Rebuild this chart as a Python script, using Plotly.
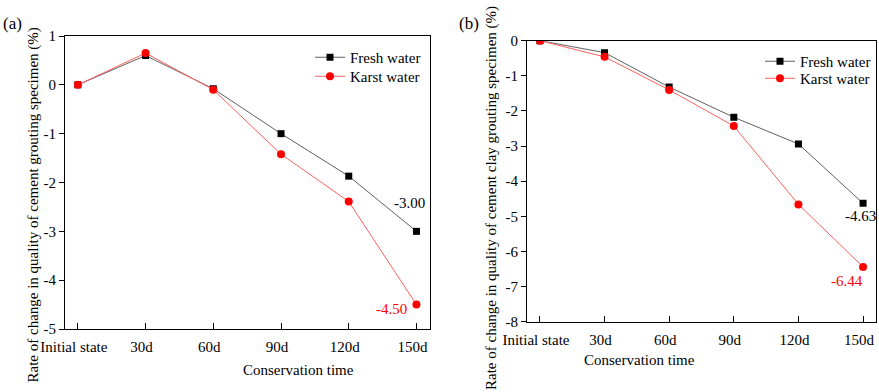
import plotly.graph_objects as go

W, H = 879, 392

categories = ["Initial state", "30d", "60d", "90d", "120d", "150d"]
fresh_a = [0, 0.60, -0.08, -1.00, -1.87, -3.00]
karst_a = [0, 0.65, -0.10, -1.42, -2.39, -4.50]
fresh_b = [0, -0.34, -1.32, -2.18, -2.94, -4.63]
karst_b = [0, -0.46, -1.40, -2.43, -4.66, -6.44]
yticks_a = [1, 0, -1, -2, -3, -4, -5]
yticks_b = [0, -1, -2, -3, -4, -5, -6, -7, -8]

FONT = "Liberation Serif, Times New Roman, serif"
xs = list(range(len(categories)))

def px(x):
    return x / W

def py(y):
    return 1 - y / H

fig = go.Figure()

black_line = dict(color="#606060", width=1)
red_line = dict(color="#ff6060", width=1)

fig.add_trace(go.Scatter(x=xs, y=fresh_a, mode="lines+markers", name="Fresh water",
                         line=black_line, marker=dict(symbol="square", size=7, color="black"),
                         xaxis="x", yaxis="y", legend="legend"))
fig.add_trace(go.Scatter(x=xs, y=karst_a, mode="lines+markers", name="Karst water",
                         line=red_line, marker=dict(symbol="circle", size=8, color="#ff0000"),
                         xaxis="x", yaxis="y", legend="legend2"))
fig.add_trace(go.Scatter(x=xs, y=fresh_b, mode="lines+markers", name="Fresh water",
                         line=black_line, marker=dict(symbol="square", size=7, color="black"),
                         xaxis="x2", yaxis="y2", legend="legend3"))
fig.add_trace(go.Scatter(x=xs, y=karst_b, mode="lines+markers", name="Karst water",
                         line=red_line, marker=dict(symbol="circle", size=8, color="#ff0000"),
                         xaxis="x2", yaxis="y2", legend="legend4"))

xcommon = dict(tickmode="array", tickvals=xs, ticktext=categories, ticks="inside", ticklen=6,
               tickcolor="black", showline=True, linecolor="black", linewidth=1, mirror=True,
               showgrid=False, zeroline=False, ticklabelshift=-4, ticklabelstandoff=4,
               automargin=False, tickfont=dict(family=FONT, size=15, color="black"))
ycommon = dict(ticks="outside", ticklen=5, tickcolor="black", showline=True, linecolor="black",
               linewidth=1, mirror=True, showgrid=False, zeroline=False, automargin=False,
               tickmode="array", tickfont=dict(family=FONT, size=15, color="black"))

def leg(x, y):
    return dict(x=px(x), y=py(y), xanchor="left", yanchor="top", bgcolor="rgba(0,0,0,0)",
                font=dict(family=FONT, size=15, color="black"))

fig.update_layout(
    width=W, height=H, margin=dict(l=0, r=0, t=0, b=0, autoexpand=False),
    paper_bgcolor="white", plot_bgcolor="white",
    font=dict(family=FONT, size=15, color="black"),
    xaxis=dict(domain=[px(65), px(430)], range=[-0.19, 5.2], anchor="y", **xcommon),
    yaxis=dict(domain=[py(329), py(36)], range=[-5, 1], tickvals=yticks_a,
               ticktext=[str(v) for v in yticks_a], anchor="x", **ycommon),
    xaxis2=dict(domain=[px(527), px(876)], range=[-0.2, 5.2], anchor="y2", **xcommon),
    yaxis2=dict(domain=[py(321.7), py(40.7)], range=[-8, 0], tickvals=yticks_b,
                ticktext=[str(v) for v in yticks_b], anchor="x2", **ycommon),
    legend=leg(310, 41),
    legend2=leg(310, 60),
    legend3=leg(760, 45),
    legend4=leg(760, 62),
    showlegend=True,
)

ann = []
# value labels
ann.append(dict(x=5, y=fresh_a[5], xref="x", yref="y", text=f"{fresh_a[5]:.2f}", showarrow=False,
                xshift=-7, yshift=28, font=dict(family=FONT, size=15, color="black")))
ann.append(dict(x=5, y=karst_a[5], xref="x", yref="y", text=f"{karst_a[5]:.2f}", showarrow=False,
                xshift=-25, yshift=-4, font=dict(family=FONT, size=15, color="#ff0000")))
ann.append(dict(x=5, y=fresh_b[5], xref="x2", yref="y2", text=f"{fresh_b[5]:.2f}", showarrow=False,
                xshift=-3, yshift=-13, font=dict(family=FONT, size=15, color="black")))
ann.append(dict(x=5, y=karst_b[5], xref="x2", yref="y2", text=f"{karst_b[5]:.2f}", showarrow=False,
                xshift=-16, yshift=-14, font=dict(family=FONT, size=15, color="#ff0000")))
# axis titles
ann.append(dict(x=px(241), y=py(380), xref="paper", yref="paper", text="Conservation time",
                showarrow=False, font=dict(family=FONT, size=15, color="black")))
ann.append(dict(x=px(697), y=py(370), xref="paper", yref="paper", text="Conservation time",
                showarrow=False, font=dict(family=FONT, size=15, color="black")))
ann.append(dict(x=px(22), y=py(205), xref="paper", yref="paper", textangle=-90,
                text="Rate of change in quality of cement grouting specimen (%)",
                showarrow=False, font=dict(family=FONT, size=15, color="black")))
ann.append(dict(x=px(492), y=py(198), xref="paper", yref="paper", textangle=-90,
                text="Rate of change in quality of cement clay grouting specimen (%)",
                showarrow=False, font=dict(family=FONT, size=15, color="black")))
# panel labels
ann.append(dict(x=px(1), y=py(12), xref="paper", yref="paper", text="(a)", xanchor="left",
                showarrow=False, font=dict(family=FONT, size=17, color="black")))
ann.append(dict(x=px(457), y=py(12), xref="paper", yref="paper", text="(b)", xanchor="left",
                showarrow=False, font=dict(family=FONT, size=17, color="black")))
fig.update_layout(annotations=ann)

fig.write_html("out.html", config={"displayModeBar": False},
               post_script="document.body.style.margin='0';")
